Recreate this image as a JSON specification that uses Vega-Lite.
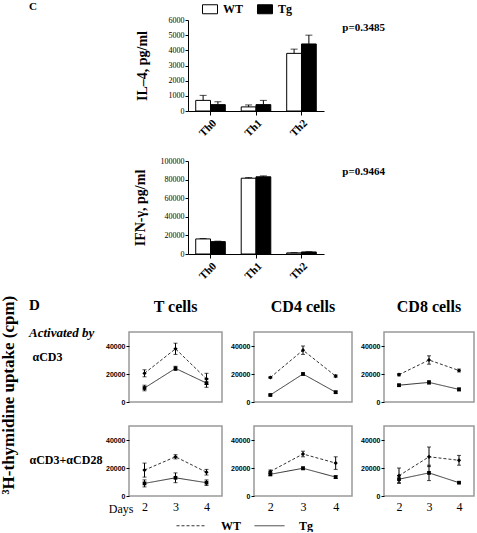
{
  "$schema": "https://vega.github.io/schema/vega-lite/v6.json",
  "padding": {"left": 0, "top": 0, "right": 0, "bottom": 0},
  "spacing": 13,
  "datasets": {
    "il4": [
      {"th": "Th0", "group": "WT", "mean": 700, "hi": 1030},
      {"th": "Th0", "group": "Tg", "mean": 420, "hi": 610},
      {"th": "Th1", "group": "WT", "mean": 270, "hi": 400},
      {"th": "Th1", "group": "Tg", "mean": 420, "hi": 700},
      {"th": "Th2", "group": "WT", "mean": 3800, "hi": 4080},
      {"th": "Th2", "group": "Tg", "mean": 4420, "hi": 5000}
    ],
    "ifn": [
      {"th": "Th0", "group": "WT", "mean": 16200, "hi": 16700},
      {"th": "Th0", "group": "Tg", "mean": 13300, "hi": 13800},
      {"th": "Th1", "group": "WT", "mean": 81500, "hi": 82200},
      {"th": "Th1", "group": "Tg", "mean": 83000, "hi": 84000},
      {"th": "Th2", "group": "WT", "mean": 1200, "hi": 1500},
      {"th": "Th2", "group": "Tg", "mean": 2200, "hi": 2500}
    ],
    "prolif": [
      {"cell": "T", "stim": "CD3", "day": 2, "group": "WT", "mean": 20500, "lo": 18000, "hi": 23000},
      {"cell": "T", "stim": "CD3", "day": 3, "group": "WT", "mean": 38000, "lo": 34000, "hi": 42000},
      {"cell": "T", "stim": "CD3", "day": 4, "group": "WT", "mean": 16500, "lo": 12500, "hi": 20500},
      {"cell": "T", "stim": "CD3", "day": 2, "group": "Tg", "mean": 10000, "lo": 8000, "hi": 12000},
      {"cell": "T", "stim": "CD3", "day": 3, "group": "Tg", "mean": 24000, "lo": 22500, "hi": 25500},
      {"cell": "T", "stim": "CD3", "day": 4, "group": "Tg", "mean": 13500, "lo": 10500, "hi": 16500},
      {"cell": "CD4", "stim": "CD3", "day": 2, "group": "WT", "mean": 17500, "lo": 17000, "hi": 18000},
      {"cell": "CD4", "stim": "CD3", "day": 3, "group": "WT", "mean": 37000, "lo": 34000, "hi": 40000},
      {"cell": "CD4", "stim": "CD3", "day": 4, "group": "WT", "mean": 18500, "lo": 17700, "hi": 19300},
      {"cell": "CD4", "stim": "CD3", "day": 2, "group": "Tg", "mean": 5000, "lo": 4500, "hi": 5500},
      {"cell": "CD4", "stim": "CD3", "day": 3, "group": "Tg", "mean": 20000, "lo": 19200, "hi": 20800},
      {"cell": "CD4", "stim": "CD3", "day": 4, "group": "Tg", "mean": 7000, "lo": 6200, "hi": 7800},
      {"cell": "CD8", "stim": "CD3", "day": 2, "group": "WT", "mean": 19500, "lo": 18700, "hi": 20300},
      {"cell": "CD8", "stim": "CD3", "day": 3, "group": "WT", "mean": 30000, "lo": 27000, "hi": 33000},
      {"cell": "CD8", "stim": "CD3", "day": 4, "group": "WT", "mean": 22500, "lo": 21500, "hi": 23500},
      {"cell": "CD8", "stim": "CD3", "day": 2, "group": "Tg", "mean": 12000, "lo": 11300, "hi": 12700},
      {"cell": "CD8", "stim": "CD3", "day": 3, "group": "Tg", "mean": 14000, "lo": 12800, "hi": 15200},
      {"cell": "CD8", "stim": "CD3", "day": 4, "group": "Tg", "mean": 9000, "lo": 8000, "hi": 10000},
      {"cell": "T", "stim": "CD28", "day": 2, "group": "WT", "mean": 18500, "lo": 13500, "hi": 23500},
      {"cell": "T", "stim": "CD28", "day": 3, "group": "WT", "mean": 28000, "lo": 26500, "hi": 29500},
      {"cell": "T", "stim": "CD28", "day": 4, "group": "WT", "mean": 17000, "lo": 15000, "hi": 19000},
      {"cell": "T", "stim": "CD28", "day": 2, "group": "Tg", "mean": 9000, "lo": 6500, "hi": 11500},
      {"cell": "T", "stim": "CD28", "day": 3, "group": "Tg", "mean": 13000, "lo": 9500, "hi": 16500},
      {"cell": "T", "stim": "CD28", "day": 4, "group": "Tg", "mean": 9500, "lo": 7500, "hi": 11500},
      {"cell": "CD4", "stim": "CD28", "day": 2, "group": "WT", "mean": 17500, "lo": 16500, "hi": 18500},
      {"cell": "CD4", "stim": "CD28", "day": 3, "group": "WT", "mean": 30000, "lo": 28000, "hi": 32000},
      {"cell": "CD4", "stim": "CD28", "day": 4, "group": "WT", "mean": 23500, "lo": 19000, "hi": 28000},
      {"cell": "CD4", "stim": "CD28", "day": 2, "group": "Tg", "mean": 15500, "lo": 14500, "hi": 16500},
      {"cell": "CD4", "stim": "CD28", "day": 3, "group": "Tg", "mean": 19800, "lo": 18800, "hi": 20800},
      {"cell": "CD4", "stim": "CD28", "day": 4, "group": "Tg", "mean": 13500, "lo": 12500, "hi": 14500},
      {"cell": "CD8", "stim": "CD28", "day": 2, "group": "WT", "mean": 14500, "lo": 9000, "hi": 20000},
      {"cell": "CD8", "stim": "CD28", "day": 3, "group": "WT", "mean": 28000, "lo": 21000, "hi": 35000},
      {"cell": "CD8", "stim": "CD28", "day": 4, "group": "WT", "mean": 25500, "lo": 22000, "hi": 29000},
      {"cell": "CD8", "stim": "CD28", "day": 2, "group": "Tg", "mean": 12000, "lo": 9500, "hi": 14500},
      {"cell": "CD8", "stim": "CD28", "day": 3, "group": "Tg", "mean": 16500, "lo": 11000, "hi": 22000},
      {"cell": "CD8", "stim": "CD28", "day": 4, "group": "Tg", "mean": 9500, "lo": 9000, "hi": 10000}
    ]
  },
  "vconcat": [
    {
      "hconcat": [
        {
          "width": 4, "height": 1,
          "data": {"values": [{"k": 1}]},
          "mark": {"type": "text", "text": " "},
          "title": {"text": "C", "anchor": "start", "dx": -100, "fontSize": 11, "offset": 3}
        },
        {
          "vconcat": [
            {
              "width": 136, "height": 91,
              "data": {"name": "il4"},
              "title": {"text": "p=0.3485", "orient": "top", "anchor": "end", "align": "right", "baseline": "top", "frame": "group", "offset": -32, "dx": 61, "fontSize": 11},
              "encoding": {
                "x": {"field": "th", "type": "nominal", "scale": {"paddingInner": 0.35, "paddingOuter": 0.17},
                      "axis": {"title": null, "labelAngle": -45, "labelFontSize": 11, "labelFontWeight": "bold", "tickSize": 4, "labelPadding": 2}},
                "xOffset": {"field": "group", "type": "nominal", "sort": ["WT", "Tg"], "scale": {"paddingInner": 0, "paddingOuter": 0}},
                "y": {"field": "mean", "type": "quantitative", "scale": {"domain": [0, 6000], "nice": false},
                      "axis": {"values": [0, 1000, 2000, 3000, 4000, 5000, 6000], "format": "d", "labelOverlap": false, "tickSize": 3, "labelFontSize": 8, "labelPadding": 1, "title": "IL–4, pg/ml", "titleFontSize": 14, "titleFontWeight": "bold", "titlePadding": 19}}
              },
              "layer": [
                {
                  "mark": {"type": "bar", "stroke": "black", "strokeWidth": 1},
                  "encoding": {
                    "fill": {"field": "group", "type": "nominal", "scale": {"domain": ["WT", "Tg"], "range": ["white", "black"]},
                             "legend": {"title": null, "orient": "none", "legendX": 14, "legendY": -19, "direction": "horizontal", "symbolType": "M-1,-0.6H1V0.6H-1Z", "symbolSize": 225, "symbolStrokeColor": "black", "symbolStrokeWidth": 1, "labelFontSize": 12, "labelFontWeight": "bold", "labelFont": "Liberation Serif", "labelOffset": 5, "columnPadding": 11}}
                  }
                },
                {"mark": {"type": "rule", "color": "black", "strokeWidth": 1}, "encoding": {"y2": {"field": "hi"}}},
                {"mark": {"type": "tick", "orient": "horizontal", "size": 7, "thickness": 1, "color": "black"}, "encoding": {"y": {"field": "hi", "type": "quantitative"}}}
              ]
            },
            {
              "width": 136, "height": 93,
              "data": {"name": "ifn"},
              "title": {"text": "p=0.9464", "orient": "top", "anchor": "end", "align": "right", "baseline": "top", "frame": "group", "offset": -20, "dx": 61, "fontSize": 11},
              "encoding": {
                "x": {"field": "th", "type": "nominal", "scale": {"paddingInner": 0.35, "paddingOuter": 0.17},
                      "axis": {"title": null, "labelAngle": -45, "labelFontSize": 11, "labelFontWeight": "bold", "tickSize": 4, "labelPadding": 2}},
                "xOffset": {"field": "group", "type": "nominal", "sort": ["WT", "Tg"], "scale": {"paddingInner": 0, "paddingOuter": 0}},
                "y": {"field": "mean", "type": "quantitative", "scale": {"domain": [0, 100000], "nice": false},
                      "axis": {"values": [0, 20000, 40000, 60000, 80000, 100000], "format": "d", "labelOverlap": false, "tickSize": 3, "labelFontSize": 8, "labelPadding": 1, "title": "IFN-γ, pg/ml", "titleFontSize": 14, "titleFontWeight": "bold", "titlePadding": 13}}
              },
              "layer": [
                {
                  "mark": {"type": "bar", "stroke": "black", "strokeWidth": 1},
                  "encoding": {
                    "fill": {"field": "group", "type": "nominal", "scale": {"domain": ["WT", "Tg"], "range": ["white", "black"]}, "legend": null}
                  }
                },
                {"mark": {"type": "rule", "color": "black", "strokeWidth": 1}, "encoding": {"y2": {"field": "hi"}}},
                {"mark": {"type": "tick", "orient": "horizontal", "size": 7, "thickness": 1, "color": "black"}, "encoding": {"y": {"field": "hi", "type": "quantitative"}}}
              ]
            }
          ],
          "spacing": 18,
          "resolve": {"scale": {"fill": "independent"}, "legend": {"fill": "independent"}}
        }
      ],
      "spacing": 0
    },
    {
      "title": {"text": "D", "subtitle": "Activated by", "anchor": "start", "frame": "group", "orient": "top", "dx": -100, "offset": -44, "fontSize": 15, "subtitleFontSize": 13, "subtitleFontWeight": "bold", "subtitleFontStyle": "italic", "subtitlePadding": 14},
      "resolve": {"scale": {"strokeDash": "independent"}, "legend": {"strokeDash": "independent"}},
      "vconcat": [
        {
          "title": {"text": "³H-thymidine uptake (cpm)", "orient": "left", "anchor": "middle", "frame": "bounds", "fontSize": 17, "offset": 10, "dx": 20},
          "columns": 3,
          "spacing": {"row": 19, "column": 6},
          "align": "each",
          "concat": [
            {
              "width": 93, "height": 70,
              "view": {"stroke": "#999999", "strokeWidth": 1.5},
              "title": {"text": "T cells", "fontSize": 16, "offset": 17},
              "data": {"name": "prolif"},
              "transform": [{"filter": "datum.cell === 'T' && datum.stim === 'CD3'"}],
              "encoding": {
                "x": {"field": "day", "type": "quantitative", "scale": {"domain": [1.5, 4.5], "nice": false}, "axis": null},
                "y": {"field": "mean", "type": "quantitative", "scale": {"domain": [0, 50000], "nice": false},
                      "axis": {"values": [0, 20000, 40000], "format": "d", "domain": false, "tickSize": 3, "labelFont": "Liberation Sans", "labelFontSize": 7, "labelFontWeight": "bold", "labelPadding": 1,
                               "title": "αCD3", "titleAngle": 0, "titleAlign": "left", "titleBaseline": "middle", "titleX": -97, "titleY": 24, "titleFontSize": 12, "titleFontWeight": "bold"}}
              },
              "layer": [
                {"mark": {"type": "line", "color": "#333333", "strokeWidth": 1}, "encoding": {"strokeDash": {"field": "group", "type": "nominal", "scale": {"domain": ["WT", "Tg"], "range": [[3, 2], [1, 0]]},
                  "legend": {"title": null, "orient": "none", "legendX": 47, "legendY": 178, "direction": "horizontal", "symbolType": "stroke", "symbolSize": 900, "symbolStrokeWidth": 1, "symbolStrokeColor": "#333333", "labelFontSize": 12, "labelFontWeight": "bold", "labelFont": "Liberation Serif", "labelOffset": 14, "columnPadding": 10}}}},
                {"mark": {"type": "rule", "color": "black", "strokeWidth": 1}, "encoding": {"y": {"field": "lo", "type": "quantitative"}, "y2": {"field": "hi"}}},
                {"mark": {"type": "tick", "orient": "horizontal", "size": 4, "thickness": 1, "color": "black"}, "encoding": {"y": {"field": "lo", "type": "quantitative"}}},
                {"mark": {"type": "tick", "orient": "horizontal", "size": 4, "thickness": 1, "color": "black"}, "encoding": {"y": {"field": "hi", "type": "quantitative"}}},
                {"transform": [{"filter": "datum.group === 'WT'"}], "mark": {"type": "point", "shape": "diamond", "filled": true, "color": "black", "size": 18, "opacity": 1}},
                {"transform": [{"filter": "datum.group === 'Tg'"}], "mark": {"type": "point", "shape": "square", "filled": true, "color": "black", "size": 14, "opacity": 1}}
              ]
            },
            {
              "width": 98, "height": 70,
              "view": {"stroke": "#999999", "strokeWidth": 1.5},
              "title": {"text": "CD4 cells", "fontSize": 16, "offset": 17},
              "data": {"name": "prolif"},
              "transform": [{"filter": "datum.cell === 'CD4' && datum.stim === 'CD3'"}],
              "encoding": {
                "x": {"field": "day", "type": "quantitative", "scale": {"domain": [1.5, 4.5], "nice": false}, "axis": null},
                "y": {"field": "mean", "type": "quantitative", "scale": {"domain": [0, 50000], "nice": false},
                      "axis": {"values": [0, 20000, 40000], "format": "d", "domain": false, "tickSize": 3, "labelFont": "Liberation Sans", "labelFontSize": 7, "labelFontWeight": "bold", "labelPadding": 1, "title": null}}
              },
              "layer": [
                {"mark": {"type": "line", "color": "#333333", "strokeWidth": 1}, "encoding": {"strokeDash": {"field": "group", "type": "nominal", "scale": {"domain": ["WT", "Tg"], "range": [[3, 2], [1, 0]]},
                  "legend": {"title": null, "orient": "none", "legendX": 47, "legendY": 178, "direction": "horizontal", "symbolType": "stroke", "symbolSize": 900, "symbolStrokeWidth": 1, "symbolStrokeColor": "#333333", "labelFontSize": 12, "labelFontWeight": "bold", "labelFont": "Liberation Serif", "labelOffset": 14, "columnPadding": 10}}}},
                {"mark": {"type": "rule", "color": "black", "strokeWidth": 1}, "encoding": {"y": {"field": "lo", "type": "quantitative"}, "y2": {"field": "hi"}}},
                {"mark": {"type": "tick", "orient": "horizontal", "size": 4, "thickness": 1, "color": "black"}, "encoding": {"y": {"field": "lo", "type": "quantitative"}}},
                {"mark": {"type": "tick", "orient": "horizontal", "size": 4, "thickness": 1, "color": "black"}, "encoding": {"y": {"field": "hi", "type": "quantitative"}}},
                {"transform": [{"filter": "datum.group === 'WT'"}], "mark": {"type": "point", "shape": "diamond", "filled": true, "color": "black", "size": 18, "opacity": 1}},
                {"transform": [{"filter": "datum.group === 'Tg'"}], "mark": {"type": "point", "shape": "square", "filled": true, "color": "black", "size": 14, "opacity": 1}}
              ]
            },
            {
              "width": 90, "height": 70,
              "view": {"stroke": "#999999", "strokeWidth": 1.5},
              "title": {"text": "CD8 cells", "fontSize": 16, "offset": 17},
              "data": {"name": "prolif"},
              "transform": [{"filter": "datum.cell === 'CD8' && datum.stim === 'CD3'"}],
              "encoding": {
                "x": {"field": "day", "type": "quantitative", "scale": {"domain": [1.5, 4.5], "nice": false}, "axis": null},
                "y": {"field": "mean", "type": "quantitative", "scale": {"domain": [0, 50000], "nice": false},
                      "axis": {"values": [0, 20000, 40000], "format": "d", "domain": false, "tickSize": 3, "labelFont": "Liberation Sans", "labelFontSize": 7, "labelFontWeight": "bold", "labelPadding": 1, "title": null}}
              },
              "layer": [
                {"mark": {"type": "line", "color": "#333333", "strokeWidth": 1}, "encoding": {"strokeDash": {"field": "group", "type": "nominal", "scale": {"domain": ["WT", "Tg"], "range": [[3, 2], [1, 0]]},
                  "legend": {"title": null, "orient": "none", "legendX": 47, "legendY": 178, "direction": "horizontal", "symbolType": "stroke", "symbolSize": 900, "symbolStrokeWidth": 1, "symbolStrokeColor": "#333333", "labelFontSize": 12, "labelFontWeight": "bold", "labelFont": "Liberation Serif", "labelOffset": 14, "columnPadding": 10}}}},
                {"mark": {"type": "rule", "color": "black", "strokeWidth": 1}, "encoding": {"y": {"field": "lo", "type": "quantitative"}, "y2": {"field": "hi"}}},
                {"mark": {"type": "tick", "orient": "horizontal", "size": 4, "thickness": 1, "color": "black"}, "encoding": {"y": {"field": "lo", "type": "quantitative"}}},
                {"mark": {"type": "tick", "orient": "horizontal", "size": 4, "thickness": 1, "color": "black"}, "encoding": {"y": {"field": "hi", "type": "quantitative"}}},
                {"transform": [{"filter": "datum.group === 'WT'"}], "mark": {"type": "point", "shape": "diamond", "filled": true, "color": "black", "size": 18, "opacity": 1}},
                {"transform": [{"filter": "datum.group === 'Tg'"}], "mark": {"type": "point", "shape": "square", "filled": true, "color": "black", "size": 14, "opacity": 1}}
              ]
            },
            {
              "width": 93, "height": 70,
              "view": {"stroke": "#999999", "strokeWidth": 1.5},
              "data": {"name": "prolif"},
              "transform": [{"filter": "datum.cell === 'T' && datum.stim === 'CD28'"}],
              "encoding": {
                "x": {"field": "day", "type": "quantitative", "scale": {"domain": [1.5, 4.5], "nice": false},
                      "axis": {"values": [2, 3, 4], "ticks": false, "domain": false, "labelFontSize": 12, "labelPadding": 5,
                               "title": "Days", "titleFontSize": 12, "titleFontWeight": "normal", "titleAlign": "right", "titleBaseline": "middle", "titleX": 4, "titleY": 12}},
                "y": {"field": "mean", "type": "quantitative", "scale": {"domain": [0, 50000], "nice": false},
                      "axis": {"values": [0, 20000, 40000], "format": "d", "domain": false, "tickSize": 3, "labelFont": "Liberation Sans", "labelFontSize": 7, "labelFontWeight": "bold", "labelPadding": 1,
                               "title": "αCD3+αCD28", "titleAngle": 0, "titleAlign": "left", "titleBaseline": "middle", "titleX": -100, "titleY": 33, "titleFontSize": 12, "titleFontWeight": "bold"}}
              },
              "layer": [
                {"mark": {"type": "line", "color": "#333333", "strokeWidth": 1}, "encoding": {"strokeDash": {"field": "group", "type": "nominal", "scale": {"domain": ["WT", "Tg"], "range": [[3, 2], [1, 0]]},
                  "legend": {"title": null, "orient": "none", "legendX": 47, "legendY": 178, "direction": "horizontal", "symbolType": "stroke", "symbolSize": 900, "symbolStrokeWidth": 1, "symbolStrokeColor": "#333333", "labelFontSize": 12, "labelFontWeight": "bold", "labelFont": "Liberation Serif", "labelOffset": 14, "columnPadding": 10}}}},
                {"mark": {"type": "rule", "color": "black", "strokeWidth": 1}, "encoding": {"y": {"field": "lo", "type": "quantitative"}, "y2": {"field": "hi"}}},
                {"mark": {"type": "tick", "orient": "horizontal", "size": 4, "thickness": 1, "color": "black"}, "encoding": {"y": {"field": "lo", "type": "quantitative"}}},
                {"mark": {"type": "tick", "orient": "horizontal", "size": 4, "thickness": 1, "color": "black"}, "encoding": {"y": {"field": "hi", "type": "quantitative"}}},
                {"transform": [{"filter": "datum.group === 'WT'"}], "mark": {"type": "point", "shape": "diamond", "filled": true, "color": "black", "size": 18, "opacity": 1}},
                {"transform": [{"filter": "datum.group === 'Tg'"}], "mark": {"type": "point", "shape": "square", "filled": true, "color": "black", "size": 14, "opacity": 1}}
              ]
            },
            {
              "width": 98, "height": 70,
              "view": {"stroke": "#999999", "strokeWidth": 1.5},
              "data": {"name": "prolif"},
              "transform": [{"filter": "datum.cell === 'CD4' && datum.stim === 'CD28'"}],
              "encoding": {
                "x": {"field": "day", "type": "quantitative", "scale": {"domain": [1.5, 4.5], "nice": false},
                      "axis": {"values": [2, 3, 4], "ticks": false, "domain": false, "labelFontSize": 12, "labelPadding": 5, "title": null}},
                "y": {"field": "mean", "type": "quantitative", "scale": {"domain": [0, 50000], "nice": false},
                      "axis": {"values": [0, 20000, 40000], "format": "d", "domain": false, "tickSize": 3, "labelFont": "Liberation Sans", "labelFontSize": 7, "labelFontWeight": "bold", "labelPadding": 1, "title": null}}
              },
              "layer": [
                {"mark": {"type": "line", "color": "#333333", "strokeWidth": 1}, "encoding": {"strokeDash": {"field": "group", "type": "nominal", "scale": {"domain": ["WT", "Tg"], "range": [[3, 2], [1, 0]]},
                  "legend": {"title": null, "orient": "none", "legendX": 47, "legendY": 178, "direction": "horizontal", "symbolType": "stroke", "symbolSize": 900, "symbolStrokeWidth": 1, "symbolStrokeColor": "#333333", "labelFontSize": 12, "labelFontWeight": "bold", "labelFont": "Liberation Serif", "labelOffset": 14, "columnPadding": 10}}}},
                {"mark": {"type": "rule", "color": "black", "strokeWidth": 1}, "encoding": {"y": {"field": "lo", "type": "quantitative"}, "y2": {"field": "hi"}}},
                {"mark": {"type": "tick", "orient": "horizontal", "size": 4, "thickness": 1, "color": "black"}, "encoding": {"y": {"field": "lo", "type": "quantitative"}}},
                {"mark": {"type": "tick", "orient": "horizontal", "size": 4, "thickness": 1, "color": "black"}, "encoding": {"y": {"field": "hi", "type": "quantitative"}}},
                {"transform": [{"filter": "datum.group === 'WT'"}], "mark": {"type": "point", "shape": "diamond", "filled": true, "color": "black", "size": 18, "opacity": 1}},
                {"transform": [{"filter": "datum.group === 'Tg'"}], "mark": {"type": "point", "shape": "square", "filled": true, "color": "black", "size": 14, "opacity": 1}}
              ]
            },
            {
              "width": 90, "height": 70,
              "view": {"stroke": "#999999", "strokeWidth": 1.5},
              "data": {"name": "prolif"},
              "transform": [{"filter": "datum.cell === 'CD8' && datum.stim === 'CD28'"}],
              "encoding": {
                "x": {"field": "day", "type": "quantitative", "scale": {"domain": [1.5, 4.5], "nice": false},
                      "axis": {"values": [2, 3, 4], "ticks": false, "domain": false, "labelFontSize": 12, "labelPadding": 5, "title": null}},
                "y": {"field": "mean", "type": "quantitative", "scale": {"domain": [0, 50000], "nice": false},
                      "axis": {"values": [0, 20000, 40000], "format": "d", "domain": false, "tickSize": 3, "labelFont": "Liberation Sans", "labelFontSize": 7, "labelFontWeight": "bold", "labelPadding": 1, "title": null}}
              },
              "layer": [
                {"mark": {"type": "line", "color": "#333333", "strokeWidth": 1}, "encoding": {"strokeDash": {"field": "group", "type": "nominal", "scale": {"domain": ["WT", "Tg"], "range": [[3, 2], [1, 0]]},
                  "legend": {"title": null, "orient": "none", "legendX": 47, "legendY": 178, "direction": "horizontal", "symbolType": "stroke", "symbolSize": 900, "symbolStrokeWidth": 1, "symbolStrokeColor": "#333333", "labelFontSize": 12, "labelFontWeight": "bold", "labelFont": "Liberation Serif", "labelOffset": 14, "columnPadding": 10}}}},
                {"mark": {"type": "rule", "color": "black", "strokeWidth": 1}, "encoding": {"y": {"field": "lo", "type": "quantitative"}, "y2": {"field": "hi"}}},
                {"mark": {"type": "tick", "orient": "horizontal", "size": 4, "thickness": 1, "color": "black"}, "encoding": {"y": {"field": "lo", "type": "quantitative"}}},
                {"mark": {"type": "tick", "orient": "horizontal", "size": 4, "thickness": 1, "color": "black"}, "encoding": {"y": {"field": "hi", "type": "quantitative"}}},
                {"transform": [{"filter": "datum.group === 'WT'"}], "mark": {"type": "point", "shape": "diamond", "filled": true, "color": "black", "size": 18, "opacity": 1}},
                {"transform": [{"filter": "datum.group === 'Tg'"}], "mark": {"type": "point", "shape": "square", "filled": true, "color": "black", "size": 14, "opacity": 1}}
              ]
            }
          ]
        }
      ]
    }
  ],
  "config": {
    "font": "Liberation Serif",
    "view": {"stroke": null},
    "axis": {"grid": false, "labelColor": "black", "titleColor": "black", "tickColor": "black", "domainColor": "black", "labelFont": "Liberation Serif", "titleFont": "Liberation Serif"},
    "title": {"font": "Liberation Serif", "fontWeight": "bold", "color": "black", "subtitleFont": "Liberation Serif", "subtitleColor": "black"},
    "legend": {"labelColor": "black"}
  }
}
